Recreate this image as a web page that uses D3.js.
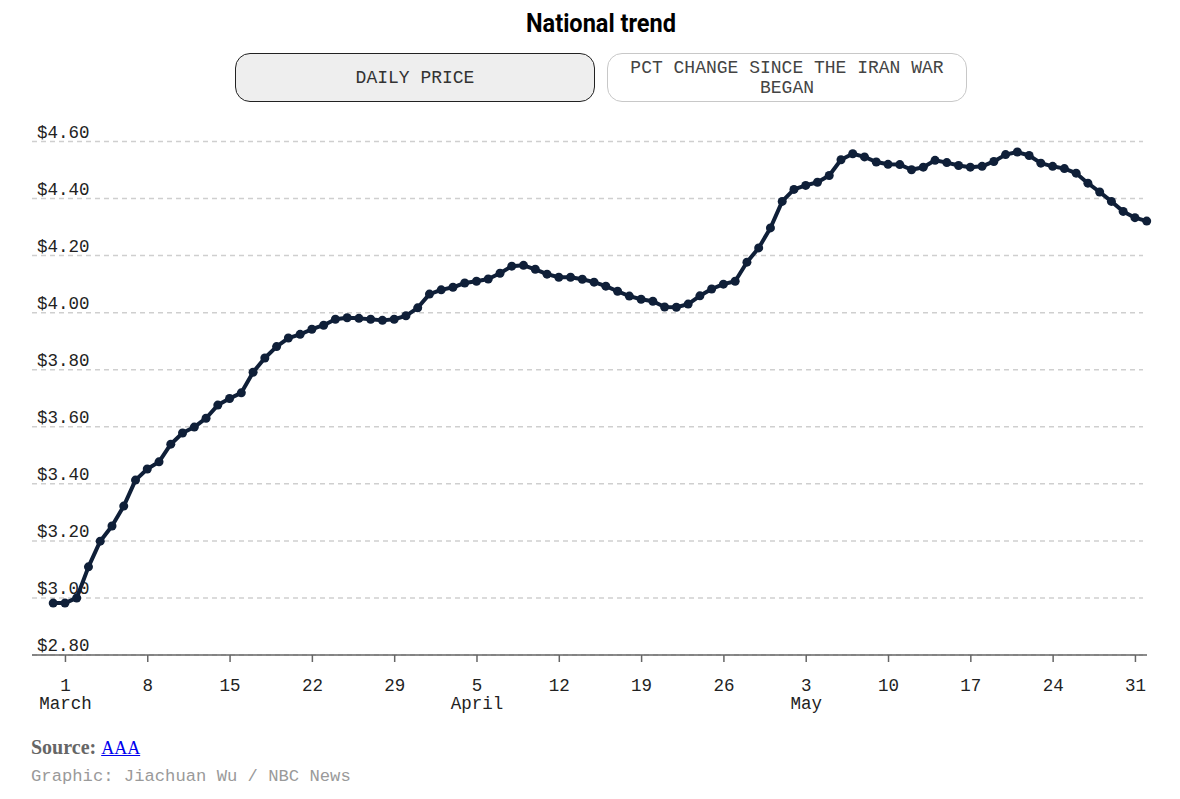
<!DOCTYPE html>
<html>
<head>
<meta charset="utf-8">
<script src="https://cdn.jsdelivr.net/npm/d3@7"></script>
<style>
  body { margin: 0; background: #fff; width: 1180px; height: 799px; position: relative; overflow: hidden; }
  #chart { position: absolute; left: 0; top: 0; }
  .btn {
    position: absolute; top: 53px; width: 360px; height: 49px; box-sizing: border-box;
    border-radius: 15px; font-family: "Liberation Mono", monospace; font-size: 18px;
    line-height: 20px; text-align: center; padding: 0 16px;
    display: flex; align-items: center; justify-content: center;
  }
  .btn.on { left: 235px; background: #eeeeee; border: 1px solid #222; color: #333; }
  .btn.off { left: 607px; background: #fff; border: 1px solid #c8c8c8; color: #444; }
  .source { position: absolute; left: 31px; top: 736px; font-family: "Liberation Serif", serif; font-size: 20px; color: #666; }
  .source b { font-weight: 700; }
  .source a { color: #0000ee; text-decoration: underline; font-weight: 400; font-size: 18px; }
  .credit { position: absolute; left: 31px; top: 767px; font-family: "Liberation Mono", monospace; font-size: 17.2px; color: #9a9a9a; }
</style>
</head>
<body>
<svg id="chart" width="1180" height="799"></svg>
<div class="btn on">DAILY PRICE</div>
<div class="btn off">PCT CHANGE SINCE THE IRAN WAR BEGAN</div>
<div class="source"><b>Source:</b> <a href="#">AAA</a></div>
<div class="credit">Graphic: Jiachuan Wu / NBC News</div>
<script>
// daily national average, Feb 28 – Jun 1
const startDate = "2026-02-28";
const prices = [
  2.982,
  2.982, 3.000, 3.109, 3.199, 3.252, 3.322, 3.413, 3.452, 3.477, 3.539,
  3.578, 3.599, 3.630, 3.676, 3.699, 3.719, 3.791, 3.841, 3.881, 3.911,
  3.924, 3.942, 3.956, 3.977, 3.982, 3.980, 3.977, 3.973, 3.977, 3.989, 4.017,
  4.065, 4.080, 4.089, 4.104, 4.110, 4.118, 4.138, 4.163, 4.166, 4.152,
  4.135, 4.124, 4.124, 4.117, 4.107, 4.093, 4.075, 4.058, 4.047, 4.040,
  4.020, 4.019, 4.030, 4.059, 4.083, 4.100, 4.110, 4.177, 4.227, 4.297,
  4.390, 4.432, 4.446, 4.457, 4.481, 4.536, 4.557, 4.546, 4.528, 4.520,
  4.519, 4.501, 4.510, 4.534, 4.526, 4.516, 4.510, 4.513, 4.530, 4.554,
  4.563, 4.551, 4.524, 4.513, 4.505, 4.489, 4.454, 4.423, 4.390, 4.355, 4.333,
  4.321
];
const yTicks = [2.8, 3.0, 3.2, 3.4, 3.6, 3.8, 4.0, 4.2, 4.4, 4.6];
const xTickDates = ["2026-03-01", "2026-03-08", "2026-03-15", "2026-03-22", "2026-03-29",
  "2026-04-05", "2026-04-12", "2026-04-19", "2026-04-26",
  "2026-05-03", "2026-05-10", "2026-05-17", "2026-05-24", "2026-05-31"];
const monthLabels = { "2026-03-01": "March", "2026-04-05": "April", "2026-05-03": "May" };

const parse = d3.utcParse("%Y-%m-%d");
const fmtKey = d3.utcFormat("%Y-%m-%d");
const t0 = parse(startDate);
const data = prices.map((v, i) => ({ date: d3.utcDay.offset(t0, i), v }));

const svg = d3.select("#chart");
const mono = "'Liberation Mono', monospace";
const left = 32, right = 1147;

// title (condensed bold look)
svg.append("text")
  .attr("x", 601).attr("y", 31.5).attr("text-anchor", "middle")
  .attr("textLength", 150).attr("lengthAdjust", "spacingAndGlyphs")
  .style("font-family", "Roboto, sans-serif").style("font-weight", 700)
  .style("font-size", "26px").style("fill", "#000")
  .text("National trend");

const x = d3.scaleUtc()
  .domain([data[0].date, data[data.length - 1].date])
  .range([53.2, 1146.7]);
const y = d3.scaleLinear().domain([2.8, 4.6]).range([655, 141.5]);

// gridlines + labels
const grid = svg.append("g");
grid.selectAll("line").data(yTicks).join("line")
  .attr("x1", left).attr("x2", 1143)
  .attr("y1", d => y(d)).attr("y2", d => y(d))
  .attr("stroke", "#cfcfcf").attr("stroke-width", 1.5)
  .attr("stroke-dasharray", "5,4");
grid.selectAll("text").data(yTicks).join("text")
  .attr("x", 37).attr("y", d => y(d) - 4)
  .style("font-family", mono).style("font-size", "17.5px").style("fill", "#222")
  .text(d => "$" + d.toFixed(2));

// x axis
const xAxis = svg.append("g").attr("transform", `translate(0,${y(2.8)})`)
  .call(d3.axisBottom(x).tickValues(xTickDates.map(parse)).tickSize(7).tickSizeOuter(0)
    .tickFormat(d3.utcFormat("%-d")));
xAxis.select(".domain").remove();
xAxis.selectAll(".tick line").attr("stroke", "#666").attr("stroke-width", 1.5);
xAxis.selectAll(".tick text")
  .attr("y", 36).attr("dy", 0)
  .style("font-family", mono).style("font-size", "17.5px").style("fill", "#222");
xAxis.selectAll(".tick").each(function (d) {
  const key = fmtKey(d);
  if (monthLabels[key]) {
    d3.select(this).append("text")
      .attr("y", 54).attr("text-anchor", "middle")
      .style("font-family", mono).style("font-size", "17.5px").style("fill", "#222")
      .text(monthLabels[key]);
  }
});
svg.append("line")
  .attr("x1", left).attr("x2", right).attr("y1", y(2.8)).attr("y2", y(2.8))
  .attr("stroke", "#666").attr("stroke-width", 1.5);

// line + dots
const line = d3.line().x(d => x(d.date)).y(d => y(d.v));
svg.append("path").datum(data)
  .attr("d", line).attr("fill", "none")
  .attr("stroke", "#0f1f38").attr("stroke-width", 4).attr("stroke-linejoin", "round");
svg.append("g").selectAll("circle").data(data).join("circle")
  .attr("cx", d => x(d.date)).attr("cy", d => y(d.v)).attr("r", 4.5)
  .attr("fill", "#0f1f38");
</script>
</body>
</html>
